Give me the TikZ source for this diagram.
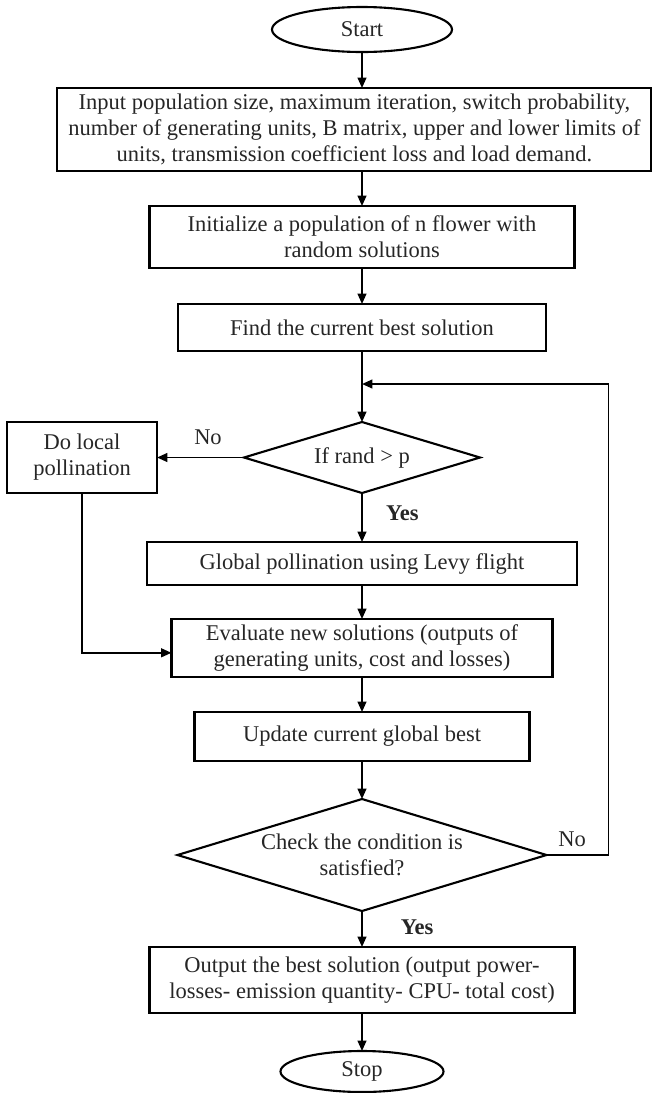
\documentclass[tikz,border=0pt]{standalone}
\usepackage{fontspec}
\setmainfont{Liberation Serif}
\usetikzlibrary{positioning,shapes.geometric,arrows.meta}

\begin{document}
\begin{tikzpicture}[node distance={9mm}, font=\fontsize{16}{18.5}\selectfont, text=black!85,
		main/.style = {draw, rectangle, line width=1.5pt, align=center, inner sep=2pt, outer sep=0pt},
		term/.style = {draw, ellipse, line width=1.5pt, inner sep=0pt, outer sep=0pt},
		cond/.style = {draw, diamond, line width=1.5pt, align=center, inner sep=0pt, outer sep=0pt, aspect=3.3},
		line/.style = {line width=1.3pt, -{Triangle[length=2.6mm, width=2.2mm]}}]
			\useasboundingbox (0,0) rectangle (16.3,-27.325);
			\node[term, minimum width=4.5cm, minimum height=1.125cm] (1) at (9.05,-0.7375) {Start};
			\node[main, minimum width=14.85cm, minimum height=2.075cm] (2) [below=0.9cm of 1, xshift=-0.19cm] {Input population size, maximum iteration, switch probability,\\ number of generating units, B matrix, upper and lower limits of\\ units, transmission coefficient loss and load demand.};
			\node[main, minimum width=10.625cm, minimum height=1.55cm] (3) [below=0.875cm of 2, xshift=0.19cm] {Initialize a population of n flower with\\ random solutions};
			\node[main, minimum width=9.2cm, minimum height=1.175cm] (4) [below=0.9cm of 3] {Find the current best solution};
			\coordinate[below=0.825cm of 4] (13);
			\node[cond, minimum width=5.9cm, minimum height=1.775cm] (5) [below=1.775cm of 4] {If rand > p};
			\node[main, minimum width=3.75cm, minimum height=1.775cm] (6) [left=2.175cm of 5] {Do local\\ pollination};
			\node[main, minimum width=10.75cm, minimum height=1.075cm] (7) [below=1.225cm of 5] {Global pollination using Levy flight};
			\node[main, minimum width=9.525cm, minimum height=1.45cm] (8) [below=0.85cm of 7] {Evaluate new solutions (outputs of\\ generating units, cost and losses)};
			\node[main, minimum width=8.375cm, minimum height=1.225cm] (9) [below=0.875cm of 8] {Update current global best};
			\node[cond, minimum width=9.225cm, minimum height=2.8cm] (10) [below=0.95cm of 9] {Check the condition is\\ satisfied?};
			\node[main, minimum width=10.625cm, minimum height=1.65cm] (11) [below=0.9cm of 10] {Output the best solution (output power-\\ losses- emission quantity- CPU- total cost)};
			\node[term, minimum width=4.075cm, minimum height=1.025cm] (12) [below=0.95cm of 11] {Stop};
			\node (14) at (5.2,-10.925) {No};
			\node (15) at (10.06,-12.83) {\textbf{Yes}};
			\node (16) at (14.3,-20.975) {No};
			\node (17) at (10.43,-23.175) {\textbf{Yes}};
			\draw[line] (1) -- (1 |- 2.north);
			\draw[line] (2.south -| 3) -- (3);
			\draw[line] (3) -- (4);
			\draw[line] (4) -- (5);
			\draw[line] (5) -- (6);
			\draw[line] (5) -- (7);
			\draw[line] (7) -- (8);
			\draw[line] (6) |- ([yshift=-0.12cm]8.west);
			\draw[line] (8) -- (9);
			\draw[line] (9) -- (10);
			\draw[line] (10.east) -- ++(1.55,0) |- (13);
			\draw[line] (10) -- (11);
			\draw[line] (11) -- (12);
		\end{tikzpicture}
\end{document}
